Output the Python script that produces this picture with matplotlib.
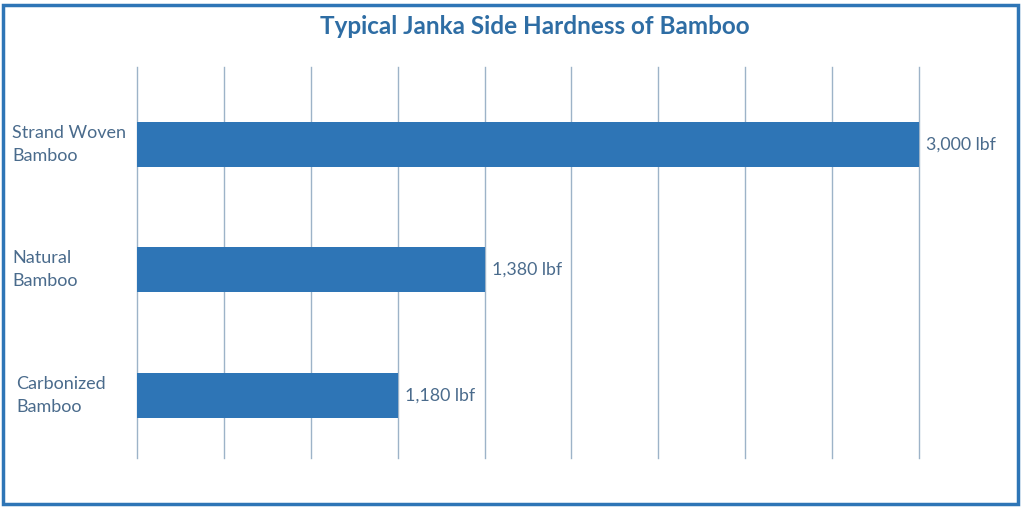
import matplotlib
matplotlib.use("Agg")
import matplotlib.pyplot as plt
import matplotlib.transforms as mtransforms
from matplotlib.patches import Rectangle
from matplotlib.ticker import NullLocator
import numpy as np

# data
categories = ["Strand Woven\nBamboo", "Natural\nBamboo", "Carbonized\nBamboo"]
hardness = [3000, 1380, 1180]
value_labels = ["3,000 lbf", "1,380 lbf", "1,180 lbf"]

bar_color = "#2E75B6"
text_color = "#4A6B8C"
title_color = "#2E6DA4"
grid_color = "#9DB3C8"

plt.rcParams["font.family"] = ["Lato", "DejaVu Sans"]

fig = plt.figure(figsize=(10.24, 5.07), dpi=100)
ax = fig.add_axes([137 / 1024, 1 - 458 / 507, 782 / 1024, 391 / 507])

# the bar lengths in the source follow a log axis
x_lo = 740
x_hi = max(hardness)
ax.set_xscale("log")
ypos = np.arange(len(categories))
ax.barh(ypos, hardness, height=0.36, color=bar_color, zorder=2)
ax.set_xlim(x_lo, x_hi)
ax.set_ylim(2.5, -0.617)

ax.set_xticks(np.geomspace(x_lo, x_hi, 10))
ax.xaxis.set_minor_locator(NullLocator())
ax.set_xticklabels([])
ax.set_yticks([])
ax.tick_params(length=0)
ax.grid(axis="x", color=grid_color, linewidth=1, zorder=0)
for gl in ax.get_xgridlines():
    gl.set_clip_on(False)
for s in ax.spines.values():
    s.set_visible(False)

# category labels on the left, value labels after the bars
trans = mtransforms.blended_transform_factory(fig.transFigure, ax.transData)
for i, (cat, val, lab) in enumerate(zip(categories, hardness, value_labels)):
    xoff = 16 if i == 2 else 12
    fig.text(xoff / 1024, i, cat, transform=trans, ha="left", va="center",
             fontsize=13, color=text_color, linespacing=1.55)
    ax.annotate(lab, (val, i), xytext=(7, 0), textcoords="offset pixels",
                ha="left", va="center", fontsize=12.8, color=text_color,
                annotation_clip=False)

fig.text(535 / 1024, 1 - 27 / 507, "Typical Janka Side Hardness of Bamboo",
         ha="center", va="center", fontsize=17.5, fontweight="bold",
         color=title_color)

# outer frame
fig.patches.append(Rectangle((3 / 1024, 3 / 507), 1015 / 1024, 499 / 507,
                             transform=fig.transFigure, fill=False,
                             edgecolor=bar_color, linewidth=2.5))

fig.savefig("out.png", dpi=100)
